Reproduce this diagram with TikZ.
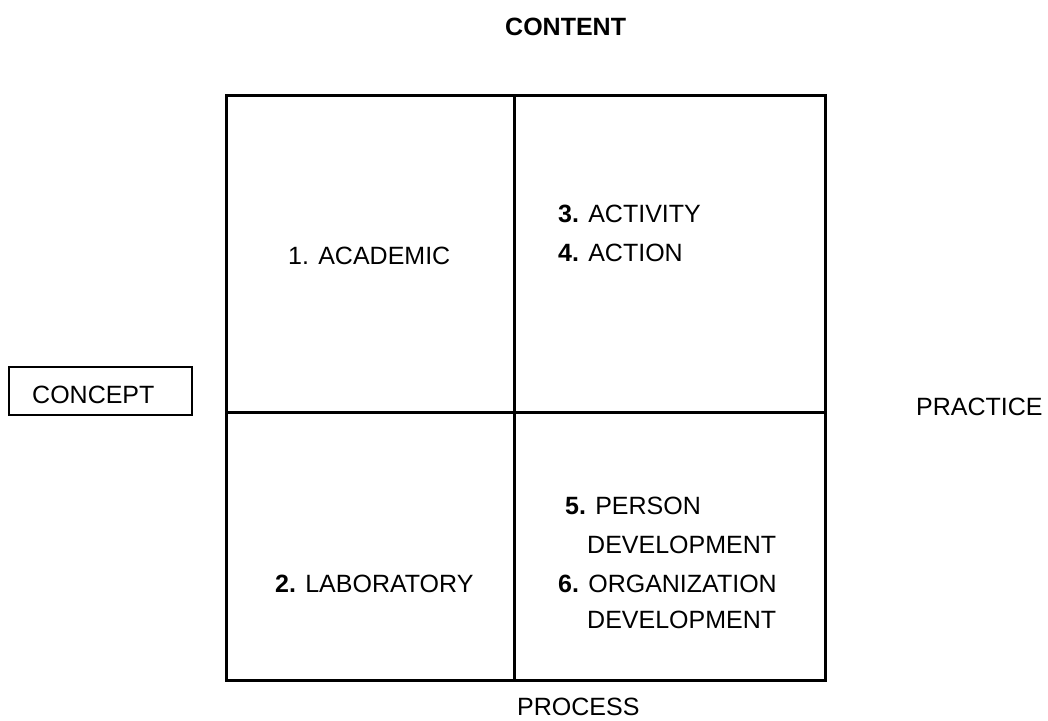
\documentclass[tikz,border=0pt]{standalone}
\usepackage{fontspec}
\setmainfont{Liberation Sans}
\begin{document}
\begin{tikzpicture}[x=1pt,y=-1pt,
  lbl/.style={anchor=base west,inner sep=0pt,font=\fontsize{25}{30}\selectfont},
  grid/.style={line width=3pt,line cap=rect},
  framebox/.style={draw,line width=2pt,minimum width=183pt,minimum height=48pt,inner sep=0pt}]
\useasboundingbox (0,0) rectangle (1048,720);
% grid
\draw[grid] (226,95) rectangle (825,680);
\draw[grid] (514,95) -- (514,680);
\draw[grid] (226,412) -- (825,412);
% labels
\node[lbl] (content) at (505,35) {\textbf{CONTENT}};
\node[lbl] (academic) at (288,264) {1. ACADEMIC};
\node[lbl] (activity) at (558,222) {\textbf{3.} ACTIVITY};
\node[lbl] (action) at (558,261) {\textbf{4.} ACTION};
\node[lbl] (person) at (565,514) {\textbf{5.} PERSON};
\node[lbl] (dev1) at (587,553) {DEVELOPMENT};
\node[lbl] (lab) at (275,592) {\textbf{2.} LABORATORY};
\node[lbl] (org) at (558,592) {\textbf{6.} ORGANIZATION};
\node[lbl] (dev2) at (587,628) {DEVELOPMENT};
\node[framebox] (conceptbox) at (100.5,391) {};
\node[lbl] (concept) at (32,403) {CONCEPT};
\node[lbl] (practice) at (916,415) {PRACTICE};
\node[lbl] (process) at (517,715) {PROCESS};
\end{tikzpicture}
\end{document}
